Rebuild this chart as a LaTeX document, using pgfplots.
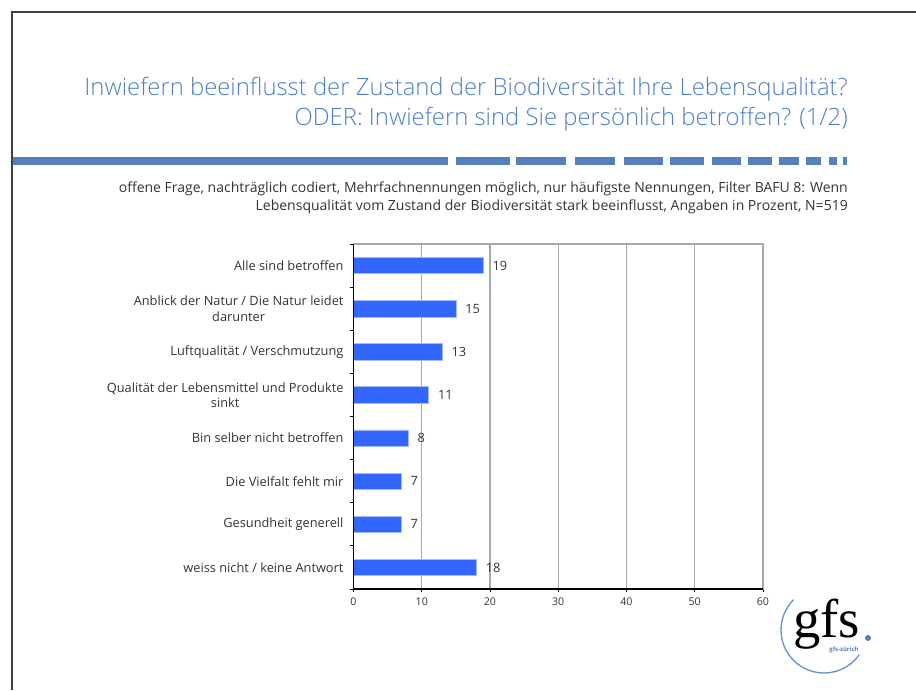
\documentclass[border=0pt]{standalone}
\usepackage{fontspec}
\setmainfont{Open Sans}
\newfontfamily\titlefont{Open Sans Light}
\newfontfamily\logofont{Liberation Serif}
\usepackage{pgfplots}
\pgfplotsset{compat=1.18}
\definecolor{titleblue}{HTML}{4F7FC4}
\definecolor{dashblue}{HTML}{5680BC}
\definecolor{barblue}{HTML}{3366FF}
\definecolor{gridgray}{HTML}{A8A8A8}
\definecolor{txt}{HTML}{333333}
\begin{document}
\begin{tikzpicture}
\begin{scope}[x=0.75pt,y=0.75pt]
\useasboundingbox (0,0) rectangle (916,-690);
% frame
\draw[black!75, line width=1.1pt] (12,-690) -- (12,-12) -- (916,-12);
% title
\node[anchor=base east, text=titleblue, font=\titlefont\fontsize{17.9}{20}\selectfont, inner sep=0pt] at (848,-95) {Inwiefern beeinflusst der Zustand der Biodiversität Ihre Lebensqualität?};
\node[anchor=base east, text=titleblue, font=\titlefont\fontsize{17.9}{20}\selectfont, inner sep=0pt] at (848,-125) {ODER: Inwiefern sind Sie persönlich betroffen? (1/2)};
% dashed rule
\fill[dashblue] (13,-157) rectangle (448,-165);
\foreach \a/\b in {456/510,516/566,575/615,624/663,670/704,712/741,748/772,779/799,806/821,829/837,843/847}
  {\fill[dashblue] (\a,-157) rectangle (\b,-165);}
% subtitle
\node[anchor=base east, text=txt, font=\fontsize{10.5}{12}\selectfont, inner sep=0pt] at (848,-192) {offene Frage, nachträglich codiert, Mehrfachnennungen möglich, nur häufigste Nennungen, Filter BAFU 8: Wenn};
\node[anchor=base east, text=txt, font=\fontsize{10.5}{12}\selectfont, inner sep=0pt] at (848,-210) {Lebensqualität vom Zustand der Biodiversität stark beeinflusst, Angaben in Prozent, N=519};
% logo
\draw[titleblue!85, line width=1pt] (793.6,-599.6) arc[start angle=135, end angle=325, radius=43];
\node[anchor=base west, inner sep=0pt, font=\logofont\fontsize{41}{41}\selectfont] at (793,-637) {gfs};
\fill[titleblue] (868,-638) circle (3);
\node[text=titleblue, font=\bfseries\fontsize{4.5}{5}\selectfont, inner sep=0pt] at (844,-650) {gfs-zürich};
\end{scope}
\begin{axis}[
  at={(265.125pt,-441.75pt)}, anchor=south west,
  scale only axis, width=307.1pt, height=258.75pt,
  xmin=0, xmax=60, ymin=0.5, ymax=8.5, y dir=reverse,
  xtick={0,10,...,60}, minor xtick={0,10,...,60},
  ytick={1,...,8}, minor ytick={0.5,1.5,...,8.5},
  yticklabels={Alle sind betroffen,{Anblick der Natur / Die Natur leidet\\darunter},Luftqualität / Verschmutzung,{Qualität der Lebensmittel und Produkte\\sinkt},Bin selber nicht betroffen,Die Vielfalt fehlt mir,Gesundheit generell,weiss nicht / keine Antwort},
  major tick length=0pt, minor tick length=2.5pt, tick align=outside,
  xtick pos=left, ytick pos=left,
  tick style={black, line width=0.6pt},
  xmajorgrids, grid style={gridgray, line width=0.9pt},
  axis line style={gridgray, line width=0.9pt},
  /pgf/number format/assume math mode=true,
  x tick label style={font=\fontsize{8}{9}\selectfont, text=txt, yshift=-3pt},
  y tick label style={font=\fontsize{9.6}{11.5}\selectfont, text=txt, align=center, xshift=-4pt},
  xbar, bar width=0.38,
  nodes near coords,
  every node near coord/.append style={font=\fontsize{9.6}{10}\selectfont, text=txt, xshift=3.5pt},
  clip=false,
]
\addplot[fill=barblue, draw=barblue!45!white, line width=0.5pt] coordinates {
  (19,1) (15,2) (13,3) (11,4) (8,5) (7,6) (7,7) (18,8)
};
\draw[black, line width=0.9pt] (rel axis cs:0,1) -- (rel axis cs:0,0) -- (rel axis cs:1,0);
\end{axis}
\end{tikzpicture}
\end{document}
